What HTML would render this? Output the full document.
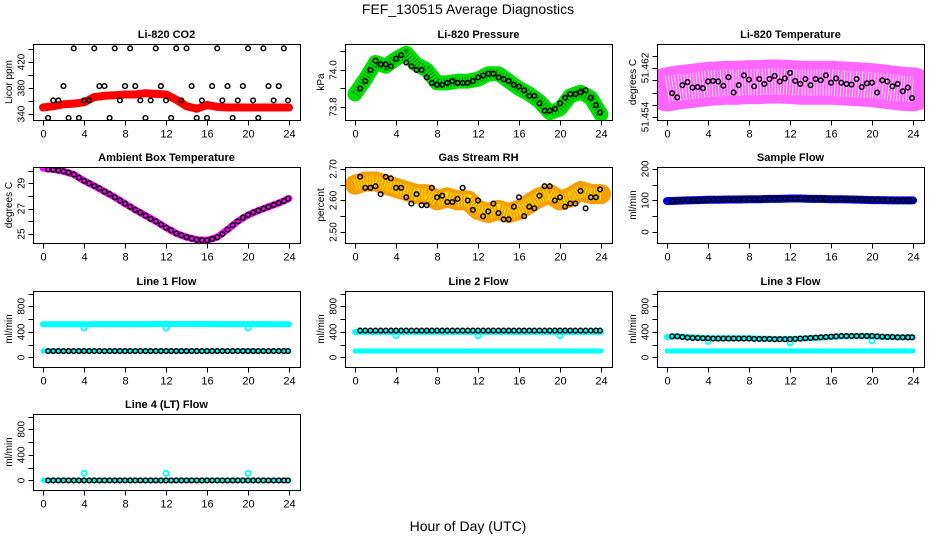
<!DOCTYPE html>
<html><head><meta charset="utf-8"><style>
html,body{margin:0;padding:0;background:#fff;}
svg{display:block;font-family:"Liberation Sans",sans-serif;}
</style></head><body>
<svg id="c" width="936" height="540" viewBox="0 0 936 540">
<text x="468" y="14" text-anchor="middle" font-size="14">FEF_130515  Average Diagnostics</text>
<text x="468" y="531" text-anchor="middle" font-size="14">Hour of Day (UTC)</text>
</svg>
<script>
const hours48 = [0.5,1,1.5,2,2.5,3,3.5,4,4.5,5,5.5,6,6.5,7,7.5,8,8.5,9,9.5,10,10.5,11,11.5,12,12.5,13,13.5,14,14.5,15,15.5,16,16.5,17,17.5,18,18.5,19,19.5,20,20.5,21,21.5,22,22.5,23,23.5,23.9];
const hours25 = [0,1,2,3,4,5,6,7,8,9,10,11,12,13,14,15,16,17,18,19,20,21,22,23,24];
const xTicks = [0,4,8,12,16,20,24];
const dipHours = [4,12,20];

const co2Band = [350,352,355,356,358,366,368,369,370,370,372,371,370,362,352,348,354,351,350,350,350,350,350,350,350];
const co2Black = [334,361,361,383,334,441,334,361,361,441,383,383,334,441,361,383,441,383,361,334,361,441,383,361,334,441,361,441,383,334,361,334,383,441,361,383,334,361,383,441,361,334,441,383,361,383,441,361];

const pressBand = [73.87,73.95,74.04,74.02,74.06,74.09,74.03,74.0,73.93,73.93,73.94,73.94,73.95,73.98,73.98,73.94,73.90,73.87,73.83,73.77,73.79,73.86,73.88,73.85,73.76];
const pressBlack = [73.9,73.94,74.0,74.05,74.03,74.03,74.02,74.06,74.08,74.04,74.02,74.0,74.0,73.96,73.93,73.92,73.92,73.93,73.94,73.93,73.93,73.93,73.94,73.96,73.97,73.98,73.98,73.96,73.95,73.94,73.92,73.91,73.89,73.86,73.86,73.82,73.78,73.78,73.79,73.82,73.85,73.87,73.87,73.88,73.89,73.85,73.81,73.77];

const tempBand = [51.4585,51.4588,51.459,51.4592,51.4594,51.4595,51.4596,51.4596,51.4597,51.4597,51.4598,51.4598,51.4597,51.4596,51.4596,51.4596,51.4596,51.4595,51.4594,51.4593,51.4592,51.459,51.4588,51.4586,51.4585];
const tempBlack = [51.4579,51.4572,51.4592,51.4597,51.4588,51.4589,51.4587,51.4598,51.4599,51.4598,51.4591,51.4605,51.4580,51.4592,51.4608,51.4601,51.4590,51.4602,51.4594,51.4602,51.4607,51.4598,51.4603,51.4612,51.4599,51.4594,51.4602,51.4592,51.4602,51.4600,51.4608,51.4596,51.4603,51.4596,51.4594,51.4593,51.4602,51.4589,51.4595,51.4596,51.4580,51.4600,51.4598,51.4590,51.4594,51.4582,51.4588,51.4571];

const ambBand = [30.2,30.1,29.95,29.7,29.2,28.8,28.35,27.9,27.4,26.9,26.45,26.0,25.5,25.05,24.75,24.55,24.5,24.75,25.35,26.0,26.5,26.85,27.15,27.45,27.8];
const ambBlack = [30.1,30.08,30.03,29.95,29.85,29.7,29.45,29.2,29.0,28.8,28.6,28.35,28.15,27.9,27.65,27.4,27.15,26.9,26.7,26.45,26.2,26.0,25.75,25.5,25.3,25.05,24.9,24.75,24.65,24.55,24.5,24.5,24.6,24.75,25.0,25.35,25.7,26.0,26.3,26.5,26.7,26.85,27.0,27.15,27.3,27.45,27.6,27.8];

const rhBand = [2.65,2.66,2.66,2.65,2.64,2.63,2.62,2.62,2.60,2.61,2.60,2.60,2.57,2.56,2.57,2.56,2.57,2.59,2.61,2.62,2.60,2.61,2.63,2.62,2.62];
const rhBlack = [2.675,2.64,2.64,2.645,2.62,2.675,2.67,2.64,2.64,2.61,2.59,2.62,2.585,2.585,2.64,2.61,2.615,2.595,2.595,2.605,2.64,2.60,2.57,2.60,2.55,2.565,2.59,2.56,2.54,2.54,2.58,2.61,2.55,2.58,2.575,2.615,2.645,2.645,2.60,2.61,2.58,2.59,2.59,2.63,2.575,2.61,2.61,2.635];

const sampleBand = [98,99,100,101,102,102,103,103,104,104,105,105,106,106,105,105,104,104,103,102,101,101,100,100,100];
const sampleBlack = [97,99,101,101,100,100,101,102,103,103,103,103,103,104,104,104,104,104,105,105,105,106,106,106,106,106,106,106,105,105,105,105,104,104,104,104,104,103,102,102,102,101,101,101,100,100,100,100];

const line1Cyan = [520,520,520,520,520,522,522,522,522,522,522,524,524,524,524,524,524,522,522,522,522,522,522,520,520];
const line1Low = [100,100,100,100,100,100,100,100,100,100,100,100,100,100,100,100,100,100,100,100,100,100,100,100,100];
const line1Black = [100,100,100,100,100,100,100,100,100,100,100,100,100,100,100,100,100,100,100,100,100,100,100,100,100,100,100,100,100,100,100,100,100,100,100,100,100,100,100,100,100,100,100,100,100,100,100,100];
const line1Dips = [460,460,460];

const line2Cyan = [400,400,400,400,400,400,400,400,400,400,400,400,400,400,400,400,400,400,400,400,400,400,400,400,400];
const line2Low = [100,100,100,100,100,100,100,100,100,100,100,100,100,100,100,100,100,100,100,100,100,100,100,100,100];
const line2Black = [420,420,420,420,420,420,420,420,420,420,420,420,420,420,420,420,420,420,420,420,420,420,420,420,420,420,420,420,420,420,420,420,420,420,420,420,420,420,420,420,420,420,420,420,420,420,420,420];
const line2Dips = [340,340,340];

const line3Cyan = [320,330,320,310,300,300,300,300,300,295,290,290,290,295,300,310,320,330,330,335,330,320,315,315,315];
const line3Low = [100,100,100,100,100,100,100,100,100,100,100,100,100,100,100,100,100,100,100,100,100,100,100,100,100];
const line3Black = [330,330,320,310,305,305,300,300,295,295,295,295,295,295,295,295,290,290,290,290,285,285,285,285,290,295,300,305,310,315,320,325,330,335,335,335,335,335,335,335,330,325,320,320,315,315,315,315];
const line3Dips = [250,230,260];

const line4Cyan = [0,0,0,0,0,0,0,0,0,0,0,0,0,0,0,0,0,0,0,0,0,0,0,0,0];
const line4Black = [0,0,0,0,0,0,0,0,0,0,0,0,0,0,0,0,0,0,0,0,0,0,0,0,0,0,0,0,0,0,0,0,0,0,0,0,0,0,0,0,0,0,0,0,0,0,0,0];
const line4Dips = [110,110,110];

const NS = 'http://www.w3.org/2000/svg';
const svg = document.getElementById('c');
const colX = [33,345,657];
const rowY = [44,167,291,414];
const BW = 267, BH = 76;

function mk(tag, attrs, parent){
  const e = document.createElementNS(NS, tag);
  for (const k in attrs) e.setAttribute(k, attrs[k]);
  (parent||svg).appendChild(e);
  return e;
}

function panel(p){
  const g = mk('g', {});
  
  
  const L = colX[p.col], T = rowY[p.row];
  const xs = h => L + 10 + h / 24 * 246;
  const ys = v => T + BH - (v - p.ymin) / (p.ymax - p.ymin) * BH;
  const clip = 'clip-' + p.name;
  const cp = mk('clipPath', {id: clip}, g);
  mk('rect', {x: L, y: T, width: BW, height: BH}, cp);
  const plot = mk('g', {'clip-path': 'url(#' + clip + ')'}, g);
  (p.bands || []).forEach(b => {
    const pts = hours25.map((h, i) => xs(h).toFixed(1) + ',' + ys(b.vals[i]).toFixed(1)).join(' ');
    const pl = mk('polyline', {points: pts, fill: 'none', stroke: b.color, 'stroke-width': b.w, 'stroke-linejoin': 'round', 'stroke-linecap': 'round', opacity: b.op || 1}, plot);
    
    
    if (b.dots) {
      const pl2 = mk('polyline', {points: pts, fill: 'none', stroke: b.dots, 'stroke-width': b.w * 0.6, 'stroke-dasharray': '1 2', 'stroke-linejoin': 'round', opacity: 0.7}, plot);
      
      
    }
  });
  (p.dips || []).forEach(d => {
    d.vals.forEach((v, i) => {
      const c = mk('circle', {cx: xs(dipHours[i]), cy: ys(v), r: 2.6, fill: 'none', stroke: d.color, 'stroke-width': 1.8}, plot);
      
      
    });
  });
  if (p.black) {
    p.black.forEach((v, i) => {
      const c = mk('circle', {cx: xs(hours48[i]), cy: ys(v), r: 2.3, fill: 'none', stroke: '#000', 'stroke-width': 1.5}, plot);
      
      
    });
  }
  const box = mk('rect', {x: L + 0.5, y: T + 0.5, width: BW, height: BH, fill: 'none', stroke: '#000', 'stroke-width': 1}, g);
  
  
  const bx = T + BH + 0.5;
  mk('line', {x1: xs(0), x2: xs(24), y1: bx, y2: bx, stroke: '#000'}, g);
  xTicks.forEach(t => {
    mk('line', {x1: xs(t) + 0.5, x2: xs(t) + 0.5, y1: bx, y2: bx + 5, stroke: '#000'}, g);
    const tx = mk('text', {x: xs(t) + 0.5, y: bx + 17, 'text-anchor': 'middle', 'font-size': 11}, g);
    tx.textContent = String(t);
    
    
  });
  const ax = L + 0.5;
  mk('line', {x1: ax, x2: ax, y1: ys(p.yticks[0]), y2: ys(p.yticks[p.yticks.length - 1]), stroke: '#000'}, g);
  p.yticks.forEach(t => {
    const y = Math.round(ys(t)) + 0.5;
    mk('line', {x1: ax - 5, x2: ax, y1: y, y2: y, stroke: '#000'}, g);
  });
  p.ylabels.forEach((lab, i) => {
    const y = ys(p.ylabelVals[i]);
    const tx = mk('text', {x: 0, y: 0, 'text-anchor': 'middle', 'font-size': 10, transform: 'translate(' + (ax - 9) + ',' + y + ') rotate(-90)'}, g);
    tx.textContent = lab;
    
    
  });
  const yt = mk('text', {x: 0, y: 0, 'text-anchor': 'middle', 'font-size': 10, transform: 'translate(' + (L - 21) + ',' + (T + BH / 2) + ') rotate(-90)'}, g);
  yt.textContent = p.ytitle;
  
  
  const ti = mk('text', {x: L + BW / 2, y: T - 6, 'text-anchor': 'middle', 'font-size': 11, 'font-weight': 'bold'}, g);
  ti.textContent = p.title;
  
  
}

const flowTicks = [0,200,400,600,800,1000];
const flowLabs = ['0','400','800'];
const flowLabVals = [0,400,800];

panel({name:'co2-panel', col:0, row:0, title:'Li-820 CO2', ytitle:'Licor ppm', ymin:330.8, ymax:447.7,
  yticks:[340,360,380,400,420,440], ylabels:['340','380','420'], ylabelVals:[340,380,420],
  bands:[{vals:co2Band, color:'#ff0000', w:8}], black:co2Black});
panel({name:'pressure-panel', col:1, row:0, title:'Li-820 Pressure', ytitle:'kPa', ymin:73.73, ymax:74.14,
  yticks:[73.8,73.9,74.0,74.1], ylabels:['73.8','74.0'], ylabelVals:[73.8,74.0],
  bands:[{vals:pressBand, color:'#00dd00', w:15, dots:'#006600'}], black:pressBlack});
panel({name:'temperature-panel', col:2, row:0, title:'Li-820 Temperature', ytitle:'degrees C', ymin:51.45351, ymax:51.46592,
  yticks:[51.454,51.456,51.458,51.460,51.462,51.464], ylabels:['51.454','51.462'], ylabelVals:[51.454,51.462],
  bands:[{vals:tempBand, color:'#ff00ff', w:44, op:0.6, dots:'#ffffff'}], black:tempBlack});
panel({name:'ambient-temp-panel', col:0, row:1, title:'Ambient Box Temperature', ytitle:'degrees C', ymin:24.29, ymax:30.29,
  yticks:[25,26,27,28,29,30], ylabels:['25','27','29'], ylabelVals:[25,27,29],
  bands:[{vals:ambBand, color:'#ff00ff', w:7}], black:ambBlack});
panel({name:'rh-panel', col:1, row:1, title:'Gas Stream RH', ytitle:'percent', ymin:2.465, ymax:2.706,
  yticks:[2.50,2.55,2.60,2.65,2.70], ylabels:['2.50','2.60','2.70'], ylabelVals:[2.50,2.60,2.70],
  bands:[{vals:rhBand, color:'#f5a000', w:20, dots:'#ffff00'}], black:rhBlack});
panel({name:'sample-flow-panel', col:2, row:1, title:'Sample Flow', ytitle:'ml/min', ymin:-35, ymax:206,
  yticks:[0,50,100,150,200], ylabels:['0','100','200'], ylabelVals:[0,100,200],
  bands:[{vals:sampleBand, color:'#0000dd', w:8}], black:sampleBlack});
panel({name:'line1-flow-panel', col:0, row:2, title:'Line 1 Flow', ytitle:'ml/min', ymin:-150, ymax:1040,
  yticks:flowTicks, ylabels:flowLabs, ylabelVals:flowLabVals,
  bands:[{vals:line1Cyan, color:'#00ffff', w:6},{vals:line1Low, color:'#00ffff', w:5}],
  dips:[{vals:line1Dips, color:'#00ffff'}], black:line1Black});
panel({name:'line2-flow-panel', col:1, row:2, title:'Line 2 Flow', ytitle:'ml/min', ymin:-150, ymax:1040,
  yticks:flowTicks, ylabels:flowLabs, ylabelVals:flowLabVals,
  bands:[{vals:line2Cyan, color:'#00ffff', w:6},{vals:line2Low, color:'#00ffff', w:5}],
  dips:[{vals:line2Dips, color:'#00ffff'}], black:line2Black});
panel({name:'line3-flow-panel', col:2, row:2, title:'Line 3 Flow', ytitle:'ml/min', ymin:-150, ymax:1040,
  yticks:flowTicks, ylabels:flowLabs, ylabelVals:flowLabVals,
  bands:[{vals:line3Cyan, color:'#00ffff', w:6},{vals:line3Low, color:'#00ffff', w:5}],
  dips:[{vals:line3Dips, color:'#00ffff'}], black:line3Black});
panel({name:'line4-flow-panel', col:0, row:3, title:'Line 4 (LT) Flow', ytitle:'ml/min', ymin:-150, ymax:1040,
  yticks:flowTicks, ylabels:flowLabs, ylabelVals:flowLabVals,
  bands:[{vals:line4Cyan, color:'#00ffff', w:5}],
  dips:[{vals:line4Dips, color:'#00ffff'}], black:line4Black});
</script>
</body></html>
